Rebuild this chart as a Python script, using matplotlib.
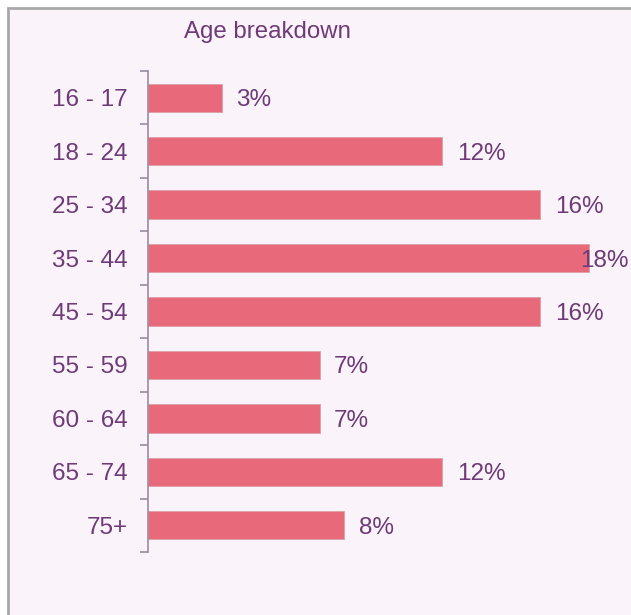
import matplotlib.pyplot as plt
from matplotlib.patches import Rectangle

plt.rcParams['font.family'] = ['Liberation Sans', 'DejaVu Sans']

categories = ['16 - 17', '18 - 24', '25 - 34', '35 - 44', '45 - 54',
              '55 - 59', '60 - 64', '65 - 74', '75+']
values = [3, 12, 16, 18, 16, 7, 7, 12, 8]
value_labels = ['3%', '12%', '16%', '18%', '16%', '7%', '7%', '12%', '8%']

W, H = 631, 615
bg = '#faf4fa'
bar_color = '#e8697a'
text_color = '#6e3a78'
axis_color = '#9a8aa0'

fig = plt.figure(figsize=(W / 100, H / 100), dpi=100)
fig.patch.set_facecolor('white')
# chart area with grey frame (cut off at right and bottom)
fig.patches.append(Rectangle((8 / W, -0.1), 1.2, (H - 8) / H + 0.1,
                             transform=fig.transFigure, facecolor=bg,
                             edgecolor='#a8a8a8', linewidth=2, zorder=-10))

ax = fig.add_axes([148 / W, (H - 552) / H, (W - 148) / W, (552 - 71) / H])
ax.set_facecolor('none')

xmax = (W - 148) / 24.5
pos = list(range(len(categories)))
ax.barh(pos, values, height=0.53, color=bar_color, edgecolor='#d8a0aa',
        linewidth=0.6)
ax.set_xlim(0, xmax)
ax.set_ylim(len(categories) - 0.5, -0.5)

for p, v, lab in zip(pos, values, value_labels):
    if v + 0.6 + 1.9 > xmax:
        ax.text(xmax - 0.1, p, lab, ha='right', va='center_baseline',
                fontsize=17.5, color=text_color)
    else:
        ax.text(v + 0.6, p, lab, ha='left', va='center_baseline',
                fontsize=17.5, color=text_color)

ax.set_yticks([p + 0.5 for p in [-1] + pos])
ax.set_yticklabels([])
ax.set_yticks(pos, minor=True)
ax.set_yticklabels(categories, minor=True, fontsize=17.5, color=text_color,
                   va='center_baseline')
ax.tick_params(axis='y', which='major', length=6, color=axis_color, width=1.2)
ax.tick_params(axis='y', which='minor', length=0, pad=14.5)
ax.set_xticks([])
for s in ['top', 'right', 'bottom']:
    ax.spines[s].set_visible(False)
ax.spines['left'].set_color(axis_color)
ax.spines['left'].set_linewidth(1.2)

fig.text(267 / W, 1 - 32 / H, 'Age breakdown', ha='center', va='center',
         fontsize=17.3, color=text_color)

fig.savefig('out.png', dpi=100, facecolor=fig.get_facecolor())
